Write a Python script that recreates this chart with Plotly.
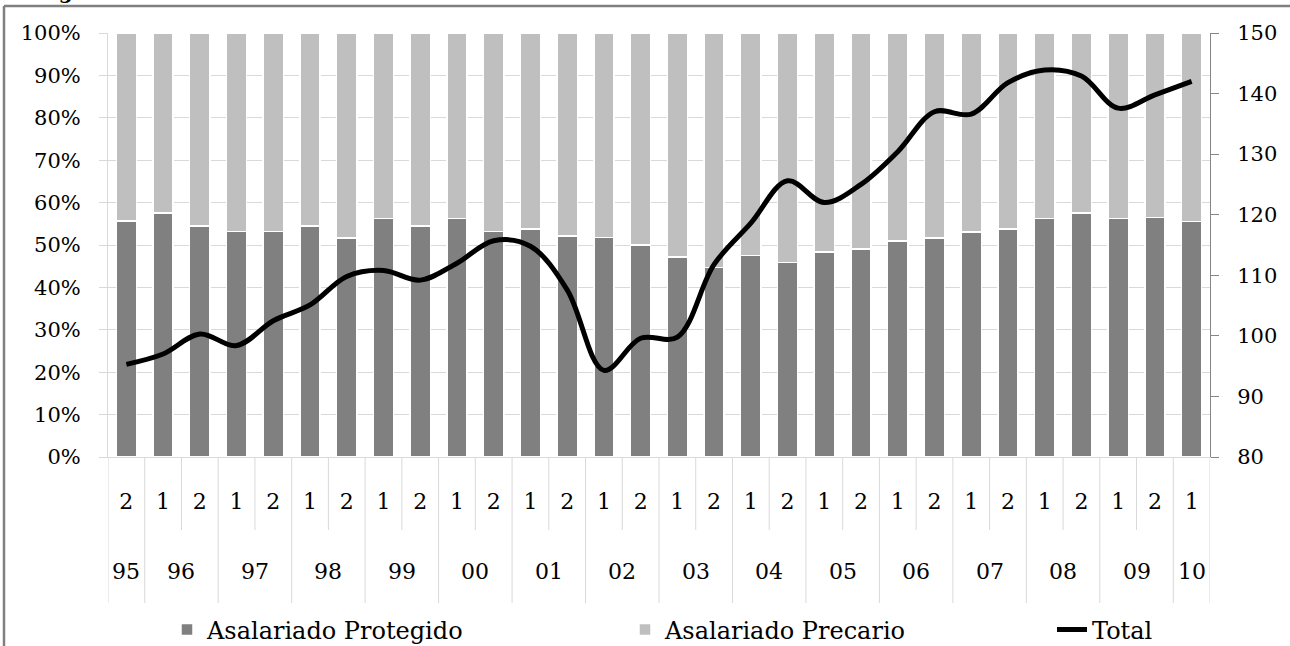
import plotly.graph_objects as go

# ---------------- data ----------------
halves = ["2", "1", "2", "1", "2", "1", "2", "1", "2", "1",
          "2", "1", "2", "1", "2", "1", "2", "1", "2", "1",
          "2", "1", "2", "1", "2", "1", "2", "1", "2", "1"]
years = ["95", "96", "96", "97", "97", "98", "98", "99", "99", "00",
         "00", "01", "01", "02", "02", "03", "03", "04", "04", "05",
         "05", "06", "06", "07", "07", "08", "08", "09", "09", "10"]
protegido = [55.7, 57.6, 54.5, 53.2, 53.2, 54.5, 51.6, 56.3, 54.5, 56.3,
             53.2, 53.8, 52.1, 51.8, 50.0, 47.2, 44.7, 47.5, 45.9, 48.3,
             49.0, 50.9, 51.6, 53.1, 53.8, 56.2, 57.5, 56.2, 56.5, 55.6]
precario = [44.3, 42.4, 45.5, 46.8, 46.8, 45.5, 48.4, 43.7, 45.5, 43.7,
            46.8, 46.2, 47.9, 48.2, 50.0, 52.8, 55.3, 52.5, 54.1, 51.7,
            51.0, 49.1, 48.4, 46.9, 46.2, 43.8, 42.5, 43.8, 43.5, 44.4]
total = [95.3, 97.0, 100.3, 98.4, 102.5, 105.1, 109.8, 110.8, 109.2, 112.0,
         115.7, 114.8, 107.6, 94.3, 99.6, 99.8, 111.8, 118.6, 125.6, 122.0,
         125.0, 130.4, 137.0, 136.6, 141.8, 143.9, 142.9, 137.6, 139.8, 142.0]
left_ticks = [0, 10, 20, 30, 40, 50, 60, 70, 80, 90, 100]
right_ticks = [80, 90, 100, 110, 120, 130, 140, 150]

# ---------------- style ----------------
FONT = "DejaVu Serif"
W, H = 1290, 646
ML, MR, MT, MB = 108, 80, 33, 189
PW, PH = W - ML - MR, H - MT - MB


def px_x(px):
    return (px - ML) / PW


def px_y(py):
    return (H - MB - py) / PH


idx = list(range(len(halves)))

fig = go.Figure()
fig.add_bar(x=idx, y=protegido, name="Asalariado Protegido",
            marker=dict(color="#808080", line=dict(color="white", width=1.5)),
            legend="legend", showlegend=True)
fig.add_bar(x=idx, y=precario, name="Asalariado Precario",
            marker=dict(color="#bfbfbf", line=dict(color="white", width=1.5)),
            legend="legend2", showlegend=True)
fig.add_scatter(x=idx, y=total, name="Total", mode="lines", yaxis="y2",
                line=dict(color="black", width=5, shape="spline", smoothing=1),
                legend="legend3", showlegend=True)

# dividers under the category axis
shapes = []
n = len(halves)
for b in range(n + 1):
    long_div = b == 0 or b == n or years[b - 1] != years[b]
    shapes.append(dict(type="line", xref="x", yref="paper",
                       x0=b - 0.5, x1=b - 0.5, y0=0,
                       y1=px_y(603) if long_div else px_y(530),
                       line=dict(color="#d9d9d9", width=1)))
# outer frame
shapes.append(dict(type="line", xref="paper", yref="paper",
                   x0=px_x(4), x1=px_x(1300), y0=px_y(6), y1=px_y(6),
                   line=dict(color="#808080", width=2.5)))
shapes.append(dict(type="line", xref="paper", yref="paper",
                   x0=px_x(4), x1=px_x(4), y0=px_y(6), y1=px_y(660),
                   line=dict(color="#808080", width=2.5)))

annotations = []
# year labels (second category row)
seen = []
for y in years:
    if y not in seen:
        seen.append(y)
for y in seen:
    pos = [i for i, v in enumerate(years) if v == y]
    annotations.append(dict(x=sum(pos) / len(pos), y=px_y(571), xref="x", yref="paper",
                            text=y, showarrow=False, yanchor="middle",
                            font=dict(family=FONT, size=22, color="black")))
# cut-off title remnant at the very top
annotations.append(dict(x=px_x(36), y=px_y(5), xref="paper", yref="paper",
                        text="<b>Figura</b>", showarrow=False, xanchor="left",
                        yanchor="bottom", borderpad=0,
                        font=dict(family=FONT, size=20, color="black")))

leg_common = dict(orientation="h", yanchor="middle", xanchor="left",
                  y=px_y(630), bgcolor="rgba(0,0,0,0)",
                  font=dict(family=FONT, size=24, color="black"))

fig.update_layout(
    width=W, height=H,
    margin=dict(l=ML, r=MR, t=MT, b=MB, autoexpand=False),
    paper_bgcolor="white", plot_bgcolor="white",
    barmode="stack", bargap=0.45, showlegend=True,
    font=dict(family=FONT, size=21, color="black"),
    xaxis=dict(range=[-0.5, n - 0.5], tickmode="array", tickvals=idx, ticktext=halves,
               ticks="", showline=True, linecolor="#d9d9d9", showgrid=False,
               zeroline=False, ticklabelstandoff=25,
               tickfont=dict(family=FONT, size=22, color="black")),
    yaxis=dict(range=[0, 100], tickmode="array", tickvals=left_ticks,
               ticktext=[f"{v}%" for v in left_ticks],
               showgrid=True, gridcolor="#d9d9d9", gridwidth=1,
               showline=True, linecolor="#d9d9d9", zeroline=False,
               ticks="outside", ticklen=8, tickcolor="#d9d9d9",
               ticklabelstandoff=14,
               tickfont=dict(family=FONT, size=21, color="black")),
    yaxis2=dict(range=[80, 150], tickmode="array", tickvals=right_ticks,
                overlaying="y", side="right", showgrid=False, zeroline=False,
                showline=True, linecolor="#868686", linewidth=1,
                ticks="outside", ticklen=8, tickcolor="#868686",
                ticklabelstandoff=14,
                tickfont=dict(family=FONT, size=21, color="black")),
    legend=dict(x=px_x(167), **leg_common),
    legend2=dict(x=px_x(625), **leg_common),
    legend3=dict(x=px_x(1052), **leg_common),
    shapes=shapes,
    annotations=annotations,
)

fig.write_html("out.html")
